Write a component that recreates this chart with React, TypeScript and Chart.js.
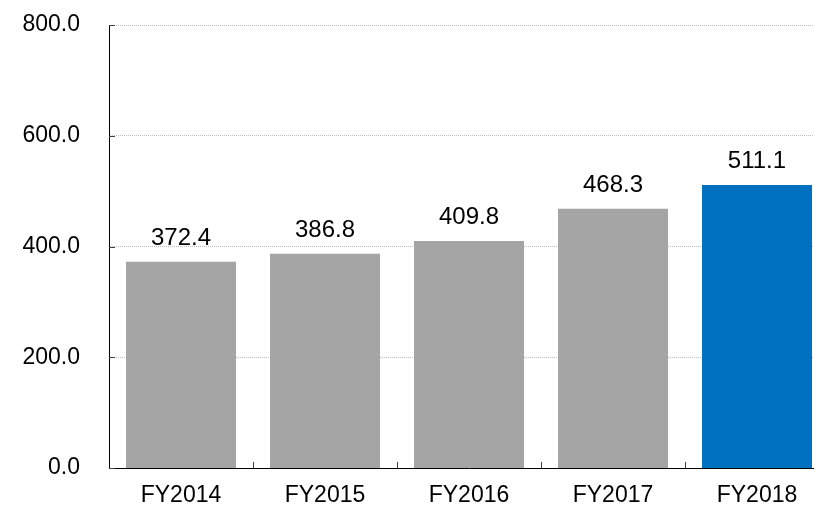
import React, { useEffect, useRef } from "react";
import { Chart, registerables } from "chart.js";

Chart.register(...registerables);

const categories = ["FY2014", "FY2015", "FY2016", "FY2017", "FY2018"];
const values = [372.4, 386.8, 409.8, 468.3, 511.1];
const barColors = ["#A5A5A5", "#A5A5A5", "#A5A5A5", "#A5A5A5", "#0070C0"];
const yMin = 0;
const yMax = 800;
const yStep = 200;

const FONT = "'Liberation Sans', Arial, sans-serif";
const CANVAS_W = 830;
const CANVAS_H = 507;

const valueLabels = {
  id: "valueLabels",
  afterDatasetsDraw(chart: any) {
    const ctx = chart.ctx;
    const meta = chart.getDatasetMeta(0);
    ctx.save();
    ctx.font = `24px ${FONT}`;
    ctx.fillStyle = "#000";
    ctx.textAlign = "center";
    ctx.textBaseline = "alphabetic";
    meta.data.forEach((bar: any, i: number) => {
      ctx.fillText(values[i].toFixed(1), bar.x, bar.y - 17);
    });
    ctx.restore();
  },
};

const innerTicks = {
  id: "innerTicks",
  afterDraw(chart: any) {
    const ctx = chart.ctx;
    const area = chart.chartArea;
    const ys = chart.scales.y;
    const xs = chart.scales.x;
    ctx.save();
    ctx.lineWidth = 1;
    ctx.setLineDash([]);
    ctx.strokeStyle = "#404040";
    ys.ticks.forEach((t: any) => {
      const y = Math.round(ys.getPixelForValue(t.value)) + 0.5;
      ctx.beginPath();
      ctx.moveTo(area.left, y);
      ctx.lineTo(area.left + 6, y);
      ctx.stroke();
    });
    for (let i = 1; i < categories.length; i++) {
      const x = Math.round((xs.getPixelForValue(i - 1) + xs.getPixelForValue(i)) / 2) + 0.5;
      ctx.beginPath();
      ctx.moveTo(x, area.bottom);
      ctx.lineTo(x, area.bottom - 6);
      ctx.stroke();
    }
    ctx.restore();
  },
};

export default function App() {
  const ref = useRef<HTMLCanvasElement>(null);
  useEffect(() => {
    document.body.style.margin = "0";
    const chart = new Chart(ref.current as HTMLCanvasElement, {
      type: "bar",
      data: {
        labels: categories,
        datasets: [
          {
            data: values,
            backgroundColor: barColors,
            borderWidth: 0,
            categoryPercentage: 0.764,
            barPercentage: 1,
          },
        ],
      },
      options: {
        responsive: false,
        animation: false,
        layout: { padding: { top: 25, right: 1, left: 0, bottom: 0 } },
        plugins: {
          legend: { display: false },
          tooltip: { enabled: false },
          title: { display: false },
        },
        scales: {
          x: {
            grid: { display: false, drawTicks: false },
            border: { display: true, color: "#000", width: 1 },
            ticks: { color: "#000", font: { family: FONT, size: 23 }, padding: 14 },
            afterFit(s: any) {
              s.height = 39;
              s.paddingLeft = 0;
              s.paddingRight = 0;
            },
          },
          y: {
            min: yMin,
            max: yMax,
            ticks: {
              stepSize: yStep,
              color: "#000",
              font: { family: FONT, size: 23 },
              padding: 29,
              callback: (v: any) => Number(v).toFixed(1),
            },
            grid: {
              color: "#BDBDBD",
              drawTicks: false,
              lineWidth: (c: any) => (c.tick && c.tick.value === 0 ? 0 : 1),
            },
            border: { display: true, color: "#000", width: 1, dash: [1, 1] },
            afterFit(s: any) {
              s.width = 109;
              s.paddingTop = 0;
              s.paddingBottom = 0;
            },
          },
        },
      } as any,
      plugins: [valueLabels, innerTicks],
    });
    return () => chart.destroy();
  }, []);
  return (
    <div style={{ position: "absolute", left: 0, top: 0, width: 814, height: 507, overflow: "hidden" }}>
      <canvas ref={ref} width={CANVAS_W} height={CANVAS_H} style={{ display: "block", width: CANVAS_W, height: CANVAS_H }} />
    </div>
  );
}
